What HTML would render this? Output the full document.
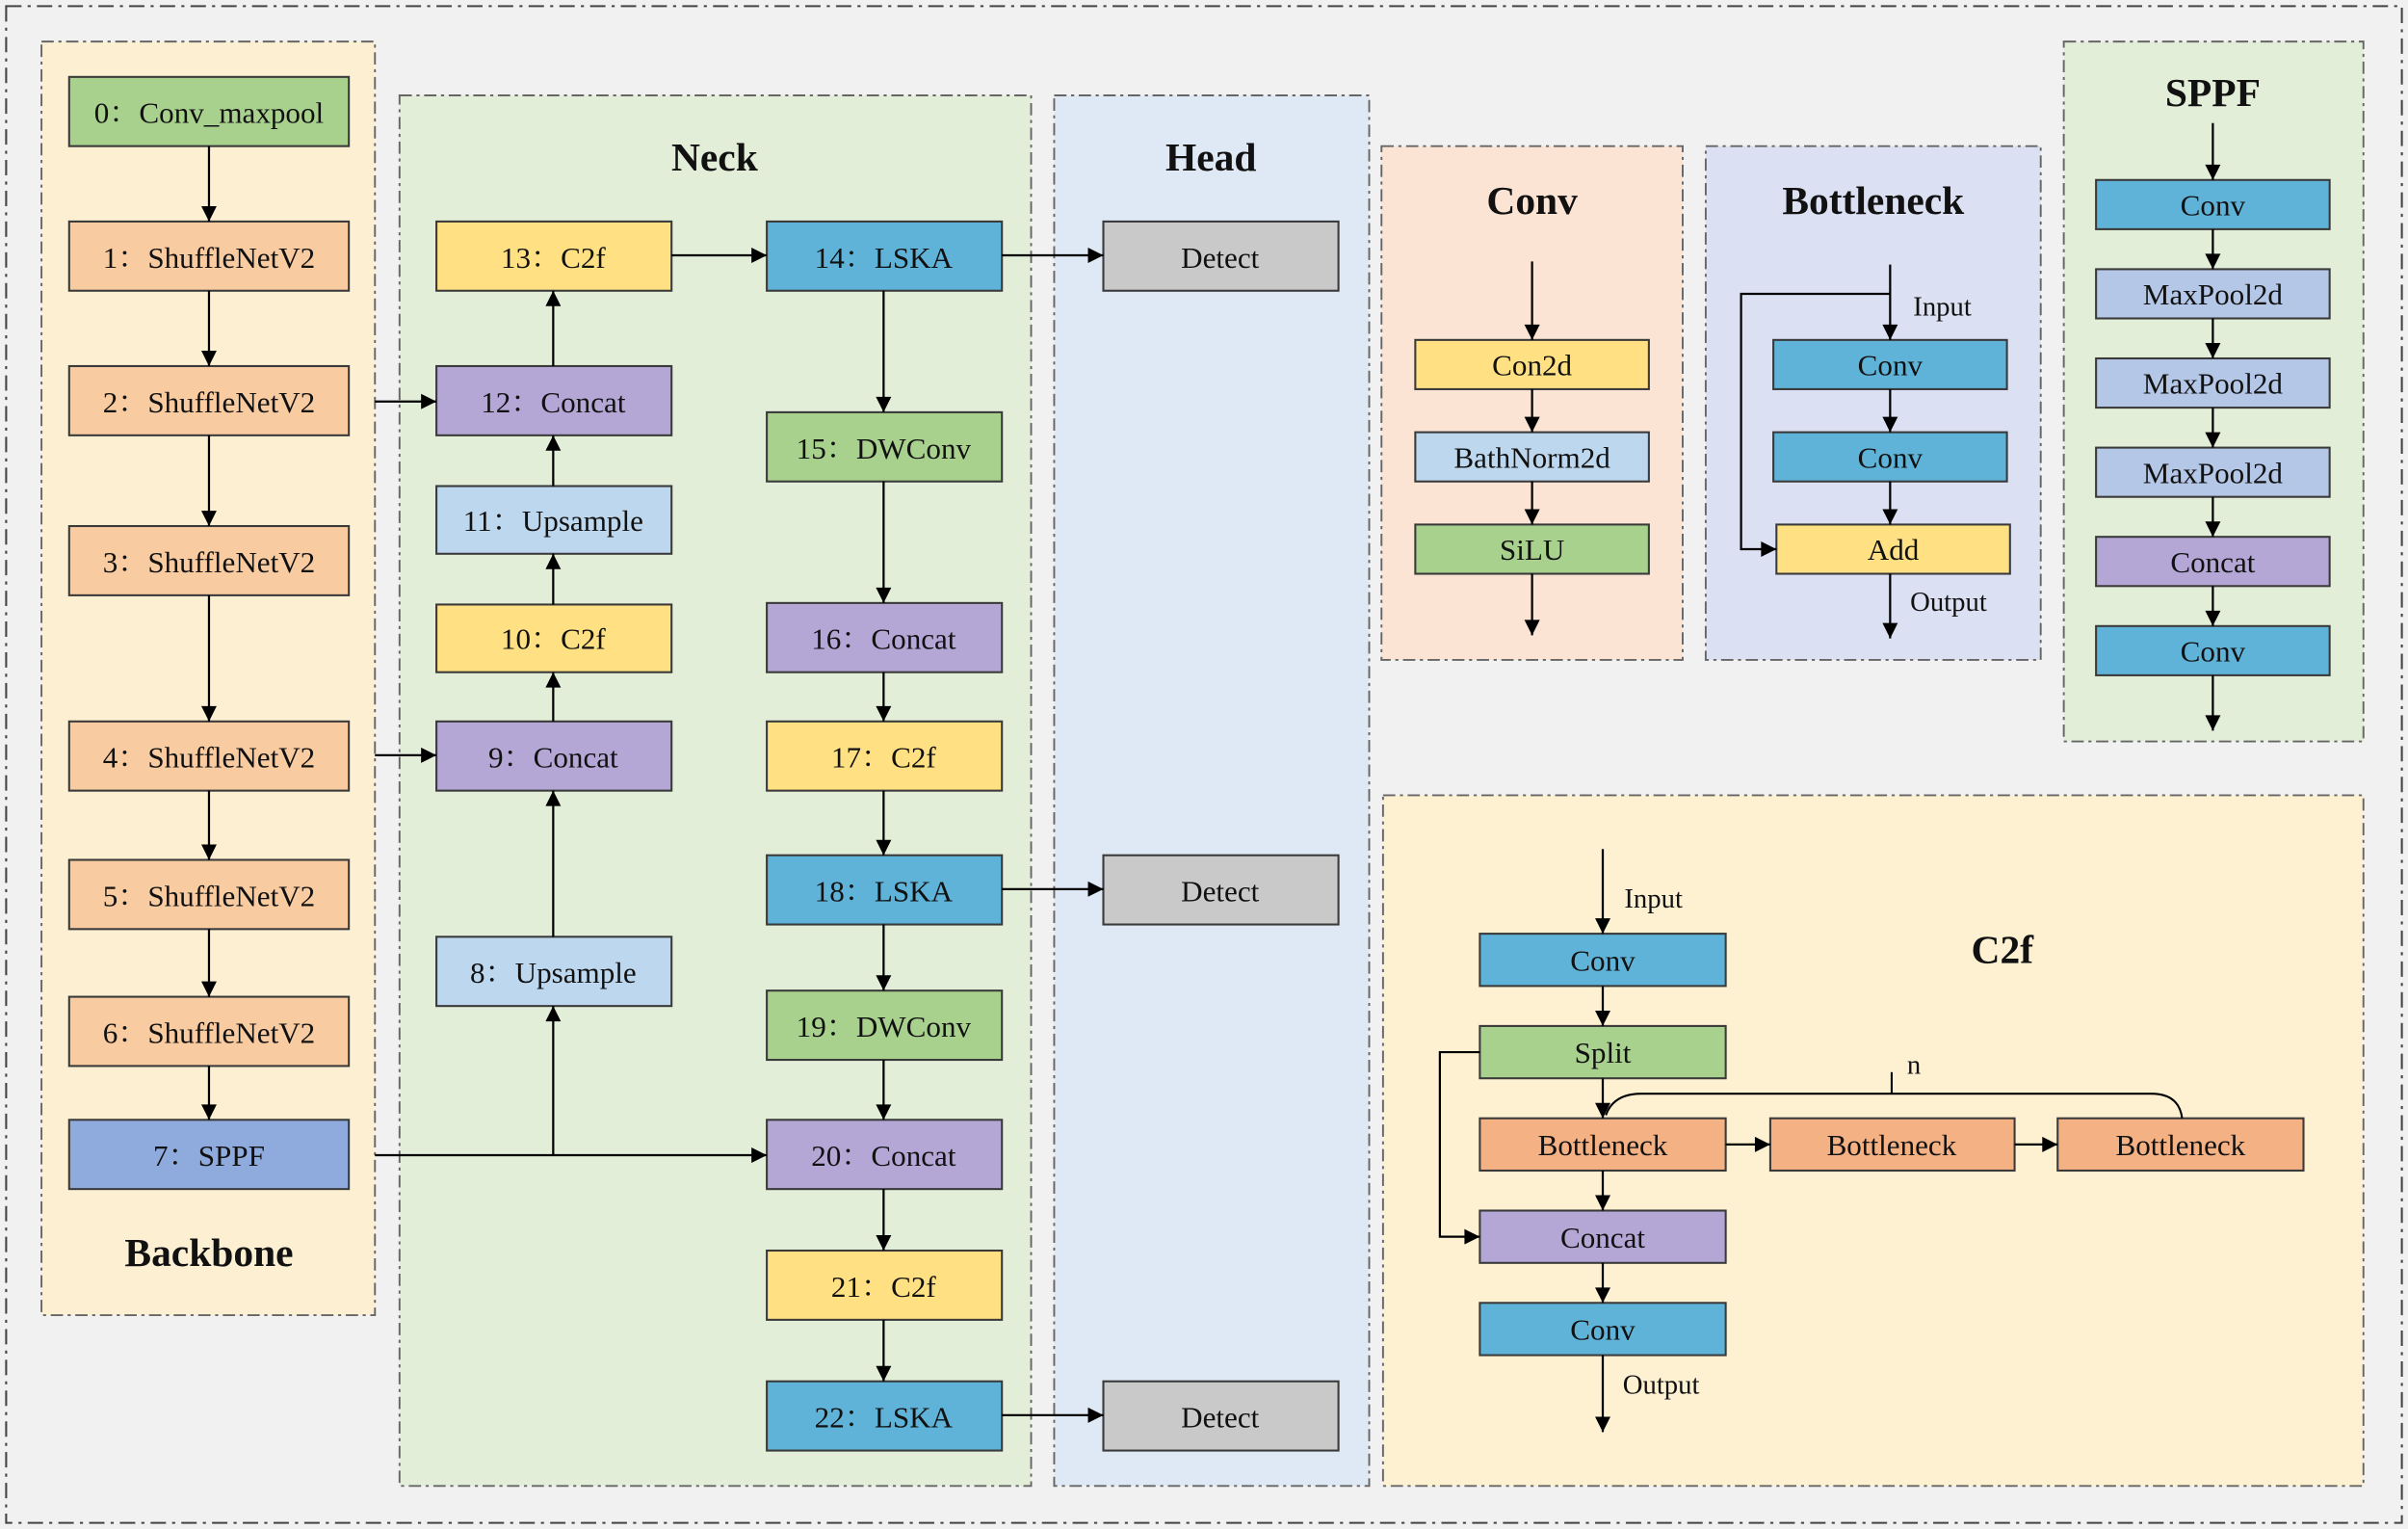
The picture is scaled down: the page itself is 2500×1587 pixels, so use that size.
<!DOCTYPE html>
<html><head><meta charset="utf-8"><style>html,body{margin:0;padding:0;background:#f1f1f1}svg{display:block}</style></head>
<body>
<svg width="2500" height="1587" viewBox="0 0 1567 994" preserveAspectRatio="none" xmlns="http://www.w3.org/2000/svg" font-family="'Liberation Serif','Noto Serif CJK SC',serif">
<defs>
<marker id="a" viewBox="0 0 10 10" refX="10" refY="5" markerWidth="11" markerHeight="10" markerUnits="userSpaceOnUse" orient="auto"><path d="M0,0 L10,5 L0,10 z" fill="#000"/></marker>
</defs>
<rect x="0" y="0" width="1567" height="994" fill="#f1f1f1"/>
<rect x="4" y="4" width="1559" height="986" fill="none" stroke="#444" stroke-width="1.3" stroke-dasharray="10,4,2,4"/>
<g stroke="#666" stroke-width="1.2" stroke-dasharray="8,3,2,3">
<rect x="27" y="27" width="217" height="828" fill="#fdf0d2"/>
<rect x="260" y="62" width="411" height="904" fill="#e3eed9"/>
<rect x="686" y="62" width="205" height="904" fill="#dfe9f5"/>
<rect x="899" y="95" width="196" height="334" fill="#fbe4d3"/>
<rect x="1110" y="95" width="218" height="334" fill="#dbe1f3"/>
<rect x="1343" y="27" width="195" height="455" fill="#e3eed9"/>
<rect x="900" y="517" width="638" height="449" fill="#fdf1d2"/>
</g>
<g font-weight="bold" font-size="26" text-anchor="middle" fill="#111">
<text x="136" y="823">Backbone</text>
<text x="465" y="111">Neck</text>
<text x="788" y="111">Head</text>
<text x="997" y="139">Conv</text>
<text x="1219" y="139">Bottleneck</text>
<text x="1440" y="69">SPPF</text>
<text x="1303" y="626">C2f</text>
</g>
<g stroke="#3a3a3a" stroke-width="1.3">
<rect x="45" y="50" width="182" height="45" fill="#a9d18e"/>
<rect x="45" y="144" width="182" height="45" fill="#f8cba0"/>
<rect x="45" y="238" width="182" height="45" fill="#f8cba0"/>
<rect x="45" y="342" width="182" height="45" fill="#f8cba0"/>
<rect x="45" y="469" width="182" height="45" fill="#f8cba0"/>
<rect x="45" y="559" width="182" height="45" fill="#f8cba0"/>
<rect x="45" y="648" width="182" height="45" fill="#f8cba0"/>
<rect x="45" y="728" width="182" height="45" fill="#8faadc"/>
<rect x="284" y="144" width="153" height="45" fill="#ffe083"/>
<rect x="284" y="238" width="153" height="45" fill="#b4a7d6"/>
<rect x="284" y="316" width="153" height="44" fill="#bdd7ee"/>
<rect x="284" y="393" width="153" height="44" fill="#ffe083"/>
<rect x="284" y="469" width="153" height="45" fill="#b4a7d6"/>
<rect x="284" y="609" width="153" height="45" fill="#bdd7ee"/>
<rect x="499" y="144" width="153" height="45" fill="#5fb3d8"/>
<rect x="499" y="268" width="153" height="45" fill="#a9d18e"/>
<rect x="499" y="392" width="153" height="45" fill="#b4a7d6"/>
<rect x="499" y="469" width="153" height="45" fill="#ffe083"/>
<rect x="499" y="556" width="153" height="45" fill="#5fb3d8"/>
<rect x="499" y="644" width="153" height="45" fill="#a9d18e"/>
<rect x="499" y="728" width="153" height="45" fill="#b4a7d6"/>
<rect x="499" y="813" width="153" height="45" fill="#ffe083"/>
<rect x="499" y="898" width="153" height="45" fill="#5fb3d8"/>
<rect x="718" y="144" width="153" height="45" fill="#c9c9c9"/>
<rect x="718" y="556" width="153" height="45" fill="#c9c9c9"/>
<rect x="718" y="898" width="153" height="45" fill="#c9c9c9"/>
<rect x="921" y="221" width="152" height="32" fill="#ffe083"/>
<rect x="921" y="281" width="152" height="32" fill="#bdd7ee"/>
<rect x="921" y="341" width="152" height="32" fill="#a9d18e"/>
<rect x="1154" y="221" width="152" height="32" fill="#5fb3d8"/>
<rect x="1154" y="281" width="152" height="32" fill="#5fb3d8"/>
<rect x="1156" y="341" width="152" height="32" fill="#ffe083"/>
<rect x="1364" y="117" width="152" height="32" fill="#5fb3d8"/>
<rect x="1364" y="175" width="152" height="32" fill="#b4c7e7"/>
<rect x="1364" y="233" width="152" height="32" fill="#b4c7e7"/>
<rect x="1364" y="291" width="152" height="32" fill="#b4c7e7"/>
<rect x="1364" y="349" width="152" height="32" fill="#b4a7d6"/>
<rect x="1364" y="407" width="152" height="32" fill="#5fb3d8"/>
<rect x="963" y="607" width="160" height="34" fill="#5fb3d8"/>
<rect x="963" y="667" width="160" height="34" fill="#a9d18e"/>
<rect x="963" y="727" width="160" height="34" fill="#f4b183"/>
<rect x="1152" y="727" width="159" height="34" fill="#f4b183"/>
<rect x="1339" y="727" width="160" height="34" fill="#f4b183"/>
<rect x="963" y="787" width="160" height="34" fill="#b4a7d6"/>
<rect x="963" y="847" width="160" height="34" fill="#5fb3d8"/>
</g>
<g font-size="19.5" text-anchor="middle" fill="#111">
<text x="136" y="80">0：Conv_maxpool</text>
<text x="136" y="174">1：ShuffleNetV2</text>
<text x="136" y="268">2：ShuffleNetV2</text>
<text x="136" y="372">3：ShuffleNetV2</text>
<text x="136" y="499">4：ShuffleNetV2</text>
<text x="136" y="589">5：ShuffleNetV2</text>
<text x="136" y="678">6：ShuffleNetV2</text>
<text x="136" y="758">7：SPPF</text>
<text x="360" y="174">13：C2f</text>
<text x="360" y="268">12：Concat</text>
<text x="360" y="345">11：Upsample</text>
<text x="360" y="422">10：C2f</text>
<text x="360" y="499">9：Concat</text>
<text x="360" y="639">8：Upsample</text>
<text x="575" y="174">14：LSKA</text>
<text x="575" y="298">15：DWConv</text>
<text x="575" y="422">16：Concat</text>
<text x="575" y="499">17：C2f</text>
<text x="575" y="586">18：LSKA</text>
<text x="575" y="674">19：DWConv</text>
<text x="575" y="758">20：Concat</text>
<text x="575" y="843">21：C2f</text>
<text x="575" y="928">22：LSKA</text>
<text x="794" y="174">Detect</text>
<text x="794" y="586">Detect</text>
<text x="794" y="928">Detect</text>
<text x="997" y="244">Con2d</text>
<text x="997" y="304">BathNorm2d</text>
<text x="997" y="364">SiLU</text>
<text x="1230" y="244">Conv</text>
<text x="1230" y="304">Conv</text>
<text x="1232" y="364">Add</text>
<text x="1440" y="140">Conv</text>
<text x="1440" y="198">MaxPool2d</text>
<text x="1440" y="256">MaxPool2d</text>
<text x="1440" y="314">MaxPool2d</text>
<text x="1440" y="372">Concat</text>
<text x="1440" y="430">Conv</text>
<text x="1043" y="631">Conv</text>
<text x="1043" y="691">Split</text>
<text x="1043" y="751">Bottleneck</text>
<text x="1231" y="751">Bottleneck</text>
<text x="1419" y="751">Bottleneck</text>
<text x="1043" y="811">Concat</text>
<text x="1043" y="871">Conv</text>
</g>
<g font-size="18" fill="#111">
<text x="1245" y="205">Input</text>
<text x="1243" y="397">Output</text>
<text x="1057" y="590">Input</text>
<text x="1056" y="906">Output</text>
<text x="1241" y="698">n</text>
</g>
<g stroke="#000" stroke-width="1.4" fill="none" marker-end="url(#a)">
<line x1="136" y1="95" x2="136" y2="144"/>
<line x1="136" y1="189" x2="136" y2="238"/>
<line x1="136" y1="283" x2="136" y2="342"/>
<line x1="136" y1="387" x2="136" y2="469"/>
<line x1="136" y1="514" x2="136" y2="559"/>
<line x1="136" y1="604" x2="136" y2="648"/>
<line x1="136" y1="693" x2="136" y2="728"/>
<line x1="244" y1="261" x2="284" y2="261"/>
<line x1="244" y1="491" x2="284" y2="491"/>
<line x1="244" y1="751" x2="499" y2="751"/>
<line x1="360" y1="751" x2="360" y2="654"/>
<line x1="360" y1="609" x2="360" y2="514"/>
<line x1="360" y1="469" x2="360" y2="437"/>
<line x1="360" y1="393" x2="360" y2="360"/>
<line x1="360" y1="316" x2="360" y2="283"/>
<line x1="360" y1="238" x2="360" y2="189"/>
<line x1="437" y1="166" x2="499" y2="166"/>
<line x1="575" y1="189" x2="575" y2="268"/>
<line x1="575" y1="313" x2="575" y2="392"/>
<line x1="575" y1="437" x2="575" y2="469"/>
<line x1="575" y1="514" x2="575" y2="556"/>
<line x1="575" y1="601" x2="575" y2="644"/>
<line x1="575" y1="689" x2="575" y2="728"/>
<line x1="575" y1="773" x2="575" y2="813"/>
<line x1="575" y1="858" x2="575" y2="898"/>
<line x1="652" y1="166" x2="718" y2="166"/>
<line x1="652" y1="578" x2="718" y2="578"/>
<line x1="652" y1="920" x2="718" y2="920"/>
<line x1="997" y1="170" x2="997" y2="221"/>
<line x1="997" y1="253" x2="997" y2="281"/>
<line x1="997" y1="313" x2="997" y2="341"/>
<line x1="997" y1="373" x2="997" y2="413"/>
<line x1="1230" y1="172" x2="1230" y2="221"/>
<line x1="1230" y1="253" x2="1230" y2="281"/>
<line x1="1230" y1="313" x2="1230" y2="341"/>
<line x1="1230" y1="373" x2="1230" y2="415"/>
<polyline points="1230,191 1133,191 1133,357 1156,357"/>
<line x1="1440" y1="80" x2="1440" y2="117"/>
<line x1="1440" y1="149" x2="1440" y2="175"/>
<line x1="1440" y1="207" x2="1440" y2="233"/>
<line x1="1440" y1="265" x2="1440" y2="291"/>
<line x1="1440" y1="323" x2="1440" y2="349"/>
<line x1="1440" y1="381" x2="1440" y2="407"/>
<line x1="1440" y1="439" x2="1440" y2="475"/>
<line x1="1043" y1="552" x2="1043" y2="607"/>
<line x1="1043" y1="641" x2="1043" y2="667"/>
<line x1="1043" y1="701" x2="1043" y2="727"/>
<line x1="1043" y1="761" x2="1043" y2="787"/>
<line x1="1043" y1="821" x2="1043" y2="847"/>
<line x1="1043" y1="881" x2="1043" y2="931"/>
<line x1="1123" y1="744" x2="1152" y2="744"/>
<line x1="1311" y1="744" x2="1339" y2="744"/>
<polyline points="963,684 937,684 937,804 963,804"/>
</g>
<g stroke="#000" stroke-width="1.3" fill="none">
<path d="M1045,725 Q1050,711 1068,711 L1400,711 Q1418,711 1420,727"/>
<line x1="1231" y1="711" x2="1231" y2="697"/>
</g>
</svg>
</body></html>
